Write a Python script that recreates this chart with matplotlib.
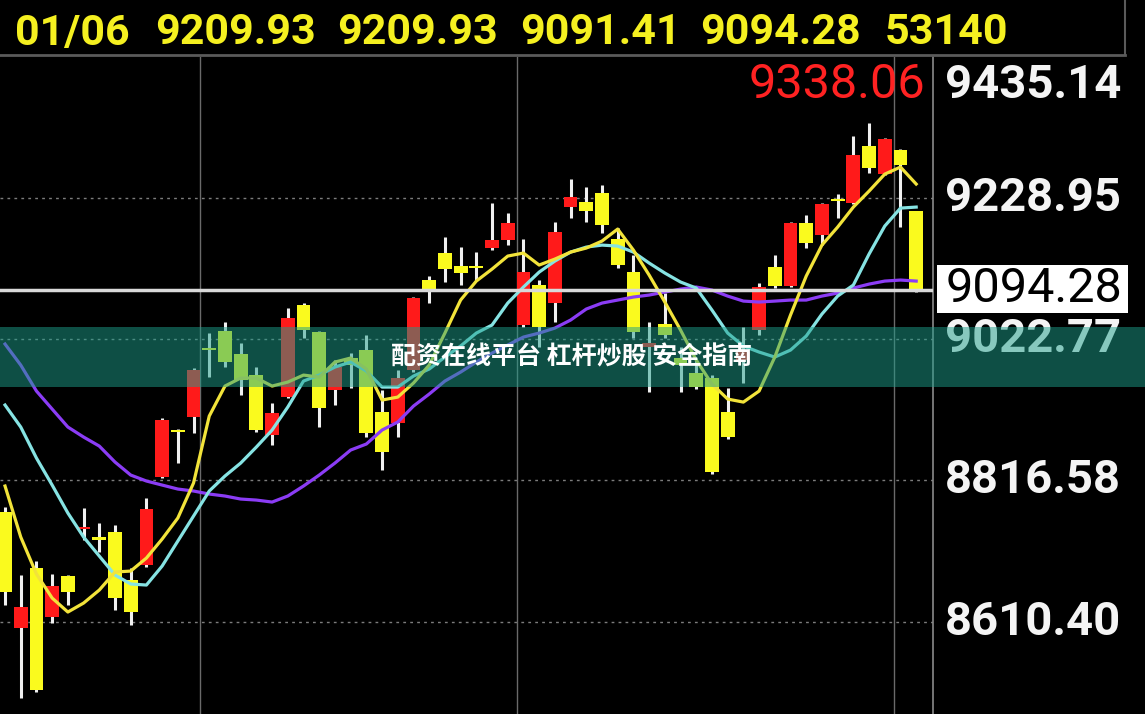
import matplotlib
matplotlib.use("Agg")
import matplotlib.pyplot as plt
from matplotlib.patches import Rectangle
from matplotlib.lines import Line2D
from matplotlib.transforms import blended_transform_factory
import numpy as np

# values (daily index candles, last one is 01/06)
last_date = "01/06"
last_volume = 53140

opens = [8770.3, 8601.1, 8688.6, 8617.1, 8676.9, 8745.5, 8733.9, 8741.2, 8671.1, 8693.0,
         8821.4, 8890.0, 8909.0, 9009.6, 9034.4, 9000.9, 8970.2, 8882.7, 8938.1, 9072.4,
         9033.0, 8948.4, 8995.1, 9006.7, 8916.2, 8900.2, 8977.5, 9108.9, 9148.3, 9129.3,
         9129.3, 9155.6, 9167.2, 9043.2, 9101.6, 9075.3, 9215.4, 9222.7, 9235.8, 9168.7,
         9120.5, 9011.1, 9044.7, 8995.1, 8973.2, 8965.9, 8916.2, 8992.1, 9035.9, 9127.8,
         9100.1, 9192.0, 9174.5, 9227.0, 9221.2, 9304.4, 9263.5, 9298.6, 9209.93]
highs = [8777.6, 8678.4, 8698.8, 8679.9, 8678.4, 8776.2, 8754.3, 8751.4, 8688.6, 8790.8,
         8907.5, 8891.4, 8980.5, 9031.5, 9047.6, 9016.9, 8981.9, 8929.4, 9068.0, 9075.3,
         9034.4, 8992.1, 9002.3, 9028.6, 8948.4, 8977.5, 9084.1, 9114.7, 9171.6, 9157.0,
         9149.7, 9221.2, 9206.6, 9168.7, 9108.9, 9193.5, 9256.2, 9244.6, 9247.5, 9184.7,
         9145.3, 9047.6, 9089.9, 9011.1, 8995.1, 8970.2, 8951.3, 9040.3, 9104.5, 9145.3,
         9193.5, 9203.7, 9221.2, 9234.4, 9319.0, 9338.06, 9316.1, 9300.1, 9209.93]
lows = [8634.6, 8498.9, 8507.7, 8608.4, 8634.6, 8729.5, 8712.0, 8627.3, 8605.4, 8690.1,
        8819.9, 8841.8, 8885.6, 8967.3, 8981.9, 8941.1, 8887.1, 8868.1, 8936.7, 9024.2,
        8894.4, 8926.5, 8951.3, 8879.8, 8831.6, 8879.8, 8974.6, 9075.3, 9106.0, 9101.6,
        9108.9, 9152.6, 9159.9, 9040.3, 9011.1, 9047.6, 9199.3, 9193.5, 9177.4, 9126.4,
        9024.2, 8945.4, 9024.2, 8945.4, 8949.8, 8825.8, 8876.9, 8958.6, 9028.6, 9097.2,
        9098.7, 9155.6, 9159.9, 9199.3, 9219.8, 9265.0, 9262.0, 9186.2, 9091.41]
closes = [8653.6, 8631.7, 8510.6, 8662.4, 8653.6, 8748.4, 8729.5, 8644.8, 8624.4, 8774.7,
          8904.6, 8887.1, 8977.5, 9006.7, 8989.2, 8962.9, 8890.0, 8914.8, 9053.4, 9035.9,
          8922.1, 8981.9, 8984.8, 8885.6, 8857.9, 8965.9, 9082.6, 9094.3, 9124.9, 9119.1,
          9126.4, 9167.2, 9192.0, 9120.5, 9040.3, 9178.9, 9230.0, 9209.6, 9189.1, 9130.8,
          9033.0, 9016.9, 9028.6, 8984.8, 8952.7, 8828.7, 8879.8, 9003.8, 9098.7, 9100.1,
          9192.0, 9162.9, 9219.8, 9224.1, 9291.3, 9272.3, 9314.6, 9276.7, 9094.28]

# moving average lines as drawn on the screen
ma_short = [8808.3, 8733.9, 8679.9, 8644.8, 8624.4, 8637.5, 8656.5, 8682.8, 8684.2, 8703.2,
            8730.9, 8761.6, 8812.7, 8910.4, 8954.2, 8965.9, 8965.9, 8954.2, 8960.0, 8970.2,
            8967.3, 8989.2, 8995.1, 8979.0, 8933.8, 8938.1, 8958.6, 8984.8, 9031.5, 9079.7,
            9107.4, 9124.9, 9143.9, 9148.3, 9130.8, 9139.5, 9149.7, 9155.6, 9165.8, 9183.3,
            9152.6, 9116.2, 9076.8, 9035.9, 8992.1, 8957.1, 8935.2, 8930.8, 8946.9, 8996.5,
            9057.8, 9114.7, 9159.9, 9186.2, 9215.4, 9238.7, 9263.5, 9273.8, 9249.0]
ma_mid = [8926.5, 8894.4, 8849.1, 8809.7, 8768.9, 8733.9, 8706.1, 8678.4, 8665.3, 8663.8,
          8691.5, 8728.0, 8764.5, 8801.0, 8822.9, 8841.8, 8865.2, 8890.0, 8923.6, 8961.5,
          8970.2, 8981.9, 8989.2, 8976.1, 8952.7, 8952.7, 8968.8, 8979.0, 8996.5, 9012.6,
          9031.5, 9043.2, 9075.3, 9098.7, 9120.5, 9136.6, 9149.7, 9157.0, 9159.9, 9158.5,
          9149.7, 9133.7, 9119.1, 9106.0, 9097.2, 9065.1, 9031.5, 9012.6, 9003.8, 8996.5,
          9006.7, 9027.2, 9059.3, 9085.5, 9101.6, 9146.8, 9187.7, 9213.9, 9215.4]
ma_long = [9015.5, 8984.8, 8946.9, 8920.6, 8894.4, 8879.8, 8866.6, 8843.3, 8824.3, 8815.6,
           8809.7, 8803.9, 8801.0, 8796.6, 8793.7, 8789.3, 8787.8, 8784.9, 8793.7, 8808.3,
           8824.3, 8841.8, 8860.8, 8869.6, 8890.0, 8901.7, 8925.0, 8942.5, 8961.5, 8974.6,
           8989.2, 9002.3, 9014.0, 9025.7, 9031.5, 9038.8, 9050.5, 9066.6, 9075.3, 9079.7,
           9084.1, 9087.0, 9091.4, 9095.7, 9098.7, 9094.3, 9085.5, 9078.2, 9076.8, 9078.2,
           9079.7, 9079.7, 9085.5, 9089.9, 9097.2, 9103.0, 9107.4, 9108.9, 9107.4]

price_top = 9435.14
grid_prices = [9228.95, 9022.77, 8816.58, 8610.40]
overlay_text = "配资在线平台 杠杆炒股 安全指南"

W, H = 1145, 714
fig = plt.figure(figsize=(W / 100, H / 100), dpi=100, facecolor="black")

# chart panel
ax = fig.add_axes([0, 0, 933 / W, (H - 56.5) / H])
ax.set_facecolor("black")
ax.set_xlim(-0.32, 59.07)
ax.set_ylim(8475.6, price_top)
ax.set_xticks([])
ax.set_yticks([])
for s in ["top", "left", "bottom"]:
    ax.spines[s].set_visible(False)
ax.spines["right"].set_color("#8a8a8a")
ax.spines["right"].set_linewidth(1.2)

for p in grid_prices:
    ax.axhline(p, color="#7c7c7c", lw=1, ls=(0, (2, 3)), zorder=1)
for xv in [12.41, 32.59, 56.59]:
    ax.axvline(xv, color="#6a6a6a", lw=1, zorder=1)

o = np.array(opens)
c = np.array(closes)
x = np.arange(len(o))
colors = np.where(c >= o, "#ff1a1a", "#fafa1e")
ax.vlines(x, lows, highs, color="#f0f0f0", lw=2.2, zorder=2)
ax.bar(x, np.maximum(np.abs(c - o), 2.8), 0.88, bottom=np.minimum(o, c),
       color=colors, linewidth=0, zorder=3)

ax.plot(x, ma_long, color="#8b3cf5", lw=2.3, zorder=4)
ax.plot(x, ma_mid, color="#86e3e3", lw=2.3, zorder=4)
ax.plot(x, ma_short, color="#f2e33a", lw=2.3, zorder=4)

ax.axhline(closes[-1], color="#d9d9d9", lw=2.5, zorder=5)

# header row
hy = 1 - 33 / H
fields = [last_date, f"{opens[-1]:.2f}", f"{highs[-1]:.2f}", f"{lows[-1]:.2f}",
          f"{closes[-1]:.2f}", str(last_volume)]
for fx, s in zip([15, 155, 337, 520, 700, 885], fields):
    fig.text(fx / W, hy, s, color="#f5f020", fontsize=31, family="Roboto",
             fontweight="bold", ha="left", va="center")
fig.add_artist(Line2D([0, 1125 / W], [1 - 55 / H] * 2, color="#5a5a5a", lw=2))
fig.add_artist(Line2D([1125 / W] * 2, [1 - 55 / H, 1], color="#5a5a5a", lw=1.5))

# right price scale
tr = blended_transform_factory(fig.transFigure, ax.transData)
fig.text(945 / W, 1 - 85 / H, f"{price_top:.2f}", color="#f4f4f4", fontsize=34,
         family="Roboto", fontweight="bold", va="center")
for p in grid_prices:
    fig.text(945 / W, p, f"{p:.2f}", transform=tr, color="#f4f4f4", fontsize=34,
             family="Roboto", fontweight="bold", va="center")

fig.add_artist(Rectangle((937 / W, 1 - 313 / H), 191 / W, 48 / H,
                         transform=fig.transFigure, facecolor="white",
                         edgecolor="none", zorder=5))
fig.text(946 / W, 1 - 289 / H, f"{closes[-1]:.2f}", color="black", fontsize=35,
         family="Roboto", va="center", zorder=6)

fig.text(925 / W, 1 - 85 / H, f"{max(highs):.2f}", color="#ff2222", fontsize=35,
         family="Roboto", ha="right", va="center")

# translucent teal banner
fig.add_artist(Rectangle((0, 1 - 387 / H), 1, 60 / H, transform=fig.transFigure,
                         facecolor="#1c9e8a", alpha=0.5, edgecolor="none", zorder=10))
fig.text(572 / W, 1 - 357 / H, overlay_text, color="white", fontsize=18,
         fontweight="bold", family=["Noto Sans CJK SC", "DejaVu Sans"],
         ha="center", va="center", zorder=11)

fig.savefig("out.png", dpi=100, facecolor="black")
